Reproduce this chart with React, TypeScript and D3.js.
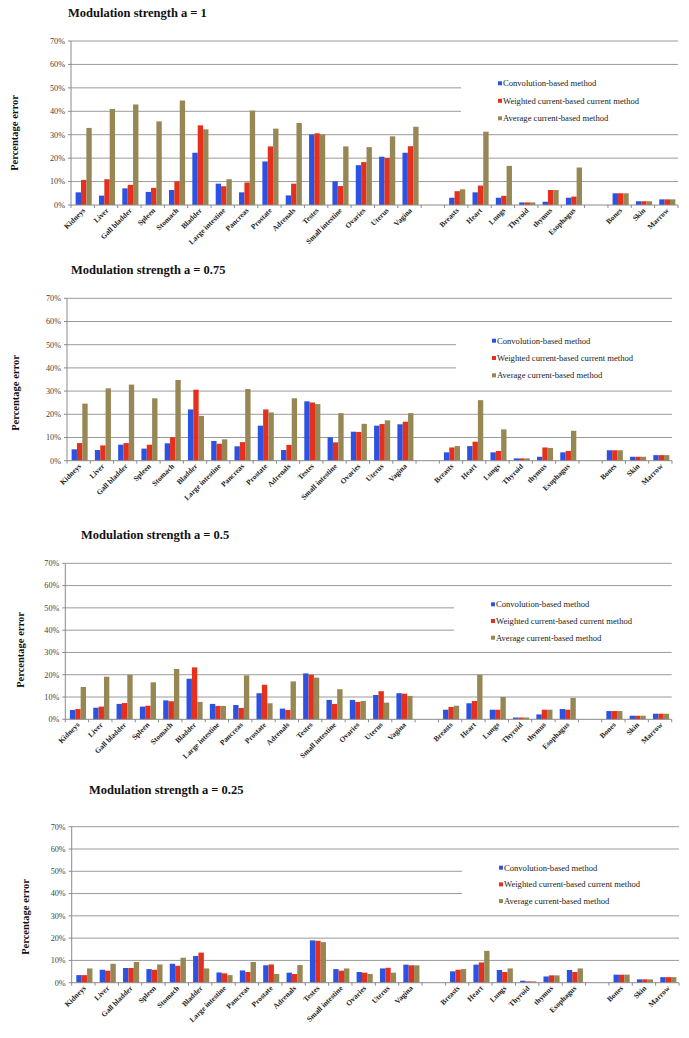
import React from "react";
import * as d3 from "d3";

// ---------- Data ----------
const ABDOMINAL = ["Kidneys", "Liver", "Gall bladder", "Spleen", "Stomach", "Bladder", "Large intestine", "Pancreas", "Prostate", "Adrenals", "Testes", "Small intestine", "Ovaries", "Uterus", "Vagina"];
const THORACIC = ["Breasts", "Heart", "Lungs", "Thyroid", "thymus", "Esophagus"];
const WHOLE_BODY = ["Bones", "Skin", "Marrow"];
const SLOTS = [...ABDOMINAL, "gap1", ...THORACIC, "gap2", ...WHOLE_BODY];
const ORGANS = [...ABDOMINAL, ...THORACIC, ...WHOLE_BODY];

const SERIES = ["Convolution-based method", "Weighted current-based current method", "Average current-based method"];
const COLORS = ["#2b52e3", "#e5311c", "#978755"];
const Y_TICKS = [0, 10, 20, 30, 40, 50, 60, 70];

// values (%) in ORGANS order
const A1_CONV = [5.4, 4.0, 7.1, 5.6, 6.4, 22.3, 9.1, 5.4, 18.6, 4.1, 30.1, 10.1, 17.0, 20.6, 22.3, 3.1, 5.4, 3.1, 1.1, 1.4, 3.1, 5.0, 1.6, 2.4];
const A1_WEIGHTED = [10.7, 11.0, 8.6, 7.3, 10.1, 34.0, 8.0, 9.6, 25.0, 9.1, 30.6, 8.1, 18.3, 20.1, 25.1, 5.9, 8.3, 3.9, 1.1, 6.4, 3.6, 5.0, 1.6, 2.4];
const A1_AVG = [32.9, 41.0, 42.9, 35.7, 44.6, 32.3, 11.0, 40.3, 32.6, 35.0, 30.1, 25.0, 24.7, 29.3, 33.4, 6.7, 31.3, 16.7, 1.1, 6.4, 16.0, 5.0, 1.6, 2.4];

const A075_CONV = [4.9, 4.6, 6.9, 5.2, 7.5, 22.1, 8.5, 6.2, 15.1, 4.6, 25.6, 10.1, 12.5, 15.1, 15.7, 3.6, 6.3, 3.6, 1.0, 1.7, 3.6, 4.5, 1.7, 2.4];
const A075_WEIGHTED = [7.6, 6.6, 7.6, 6.9, 10.1, 30.6, 7.3, 8.0, 22.1, 6.8, 25.1, 7.9, 12.4, 15.8, 16.8, 5.7, 8.2, 4.2, 1.0, 5.7, 4.2, 4.5, 1.7, 2.4];
const A075_AVG = [24.6, 31.2, 32.8, 26.9, 34.8, 19.3, 9.2, 30.9, 20.8, 26.9, 24.4, 20.5, 15.9, 17.4, 20.5, 6.3, 26.1, 13.5, 1.0, 5.5, 12.9, 4.5, 1.7, 2.4];

const A05_CONV = [4.2, 5.2, 6.9, 5.7, 8.5, 18.2, 6.9, 6.4, 11.7, 4.8, 20.6, 8.7, 8.7, 10.9, 11.7, 4.3, 7.2, 4.3, 0.8, 2.2, 4.6, 3.7, 1.6, 2.5];
const A05_WEIGHTED = [4.6, 5.7, 7.3, 6.1, 8.1, 23.3, 6.0, 5.1, 15.5, 4.2, 20.0, 6.9, 7.8, 12.6, 11.5, 5.5, 8.2, 4.3, 0.8, 4.3, 4.3, 3.7, 1.6, 2.5];
const A05_AVG = [14.5, 19.1, 20.0, 16.6, 22.6, 7.8, 6.0, 19.7, 7.2, 17.0, 18.7, 13.5, 8.2, 7.5, 10.5, 6.1, 20.0, 10.0, 0.8, 4.3, 9.6, 3.7, 1.6, 2.5];

const A025_CONV = [3.4, 5.8, 6.6, 6.1, 8.5, 12.0, 4.6, 5.5, 7.8, 4.5, 19.0, 6.1, 4.8, 6.4, 8.1, 5.1, 8.1, 5.7, 0.9, 2.8, 5.7, 3.6, 1.5, 2.5];
const A025_WEIGHTED = [3.4, 5.4, 6.6, 5.8, 7.6, 13.5, 4.2, 4.8, 8.2, 3.9, 18.8, 5.4, 4.5, 6.7, 7.8, 5.8, 9.1, 4.8, 0.6, 3.3, 4.8, 3.6, 1.5, 2.5];
const A025_AVG = [6.4, 8.5, 9.3, 8.2, 11.2, 6.4, 3.4, 9.3, 3.9, 7.9, 18.2, 6.4, 3.9, 4.5, 7.8, 6.1, 14.3, 6.4, 0.6, 3.3, 6.4, 3.6, 1.5, 2.5];

const TITLES = ["Modulation strength a = 1", "Modulation strength a = 0.75", "Modulation strength a = 0.5", "Modulation strength a = 0.25"];
const PANEL_DATA = [
  [A1_CONV, A1_WEIGHTED, A1_AVG],
  [A075_CONV, A075_WEIGHTED, A075_AVG],
  [A05_CONV, A05_WEIGHTED, A05_AVG],
  [A025_CONV, A025_WEIGHTED, A025_AVG],
];

// ---------- Layout ----------
const LAYOUTS = [
  { titleX: 68, titleY: 17, top: 41, bottom: 205, left: 71, right: 678, gridCut: 461, legendX: 500, legendY: 83.3, legendGap: 17.5, labelX: 14, labelY: 133 },
  { titleX: 71, titleY: 274, top: 298.3, bottom: 460.7, left: 67, right: 672, gridCut: 456, legendX: 494, legendY: 340.7, legendGap: 17.3, labelX: 15, labelY: 393 },
  { titleX: 81, titleY: 539, top: 563.3, bottom: 719.3, left: 65.3, right: 671.7, gridCut: 454, legendX: 493, legendY: 604.3, legendGap: 16.7, labelX: 20, labelY: 650 },
  { titleX: 89, titleY: 794, top: 826.7, bottom: 982.7, left: 71.7, right: 679, gridCut: 462, legendX: 501, legendY: 867.7, legendGap: 16.7, labelX: 25, labelY: 917 },
];

const FONT = "'Liberation Serif', 'Times New Roman', serif";

function Panel({ title, data, L }: { title: string; data: number[][]; L: any }) {
  const x = d3.scaleBand<string>().domain(SLOTS).range([L.left, L.right]).padding(0);
  const y = d3.scaleLinear().domain([0, 70]).range([L.bottom, L.top]);
  const bw = x.bandwidth();
  const barW = bw * 0.23;
  const boundaries = d3.range(SLOTS.length + 1).map((i) => L.left + i * bw);

  return (
    <g>
      <text x={L.titleX} y={L.titleY} fontFamily={FONT} fontWeight="bold" fontSize={12.5} fill="#111">
        {title}
      </text>
      {/* gridlines */}
      {Y_TICKS.filter((v) => v > 0).map((v) => (
        <line key={v} x1={L.left} x2={v === 40 || v === 50 ? L.gridCut : L.right} y1={y(v)} y2={y(v)} stroke="#9a9a9a" strokeWidth={1} />
      ))}
      {/* y ticks & labels */}
      {Y_TICKS.map((v) => (
        <g key={"t" + v}>
          <line x1={L.left - 3} x2={L.left} y1={y(v)} y2={y(v)} stroke="#8a8a8a" />
          <text x={L.left - 6} y={y(v) + 2.8} textAnchor="end" fontFamily={FONT} fontSize={8.2} fill="#444">
            {v + "%"}
          </text>
        </g>
      ))}
      {/* bars */}
      {ORGANS.map((organ, i) => {
        const cx = (x(organ) as number) + bw / 2;
        return data.map((series, s) => {
          const v = series[i];
          return (
            <rect key={organ + s} x={cx - 1.5 * barW + s * barW + 1} y={y(v)} width={barW} height={y(0) - y(v)} fill={COLORS[s]} />
          );
        });
      })}
      {/* axes */}
      <line x1={L.left} x2={L.left} y1={L.top} y2={L.bottom} stroke="#8a8a8a" />
      <line x1={L.left} x2={L.right} y1={L.bottom} y2={L.bottom} stroke="#8a8a8a" />
      {boundaries.map((bx, i) => (
        <line key={"b" + i} x1={bx} x2={bx} y1={L.bottom} y2={L.bottom + 3} stroke="#8a8a8a" />
      ))}
      {/* x labels */}
      {ORGANS.map((organ) => {
        const cx = (x(organ) as number) + bw / 2;
        return (
          <text key={"l" + organ} transform={`translate(${cx + 3},${L.bottom + 6}) rotate(-45)`} textAnchor="end" fontFamily={FONT} fontWeight="bold" fontSize={7.5} fill="#222">
            {organ}
          </text>
        );
      })}
      {/* y axis title */}
      <text transform={`translate(${L.labelX},${L.labelY}) rotate(-90)`} textAnchor="middle" dominantBaseline="central" fontFamily={FONT} fontWeight="bold" fontSize={10.5} fill="#111">
        Percentage error
      </text>
      {/* legend */}
      {SERIES.map((name, s) => {
        const ly = L.legendY + s * L.legendGap;
        return (
          <g key={name}>
            <rect x={L.legendX - 2} y={ly - 2} width={4} height={4} fill={COLORS[s]} />
            <text x={L.legendX + 3} y={ly + 3} fontFamily={FONT} fontSize={8.6} fill="#222">
              {name}
            </text>
          </g>
        );
      })}
    </g>
  );
}

export default function App() {
  return (
    <div style={{ position: "absolute", left: 0, top: 0 }}>
      <svg width={689} height={1038} style={{ display: "block", background: "#fff" }}>
        {TITLES.map((t, i) => (
          <Panel key={t} title={t} data={PANEL_DATA[i]} L={LAYOUTS[i]} />
        ))}
      </svg>
    </div>
  );
}
